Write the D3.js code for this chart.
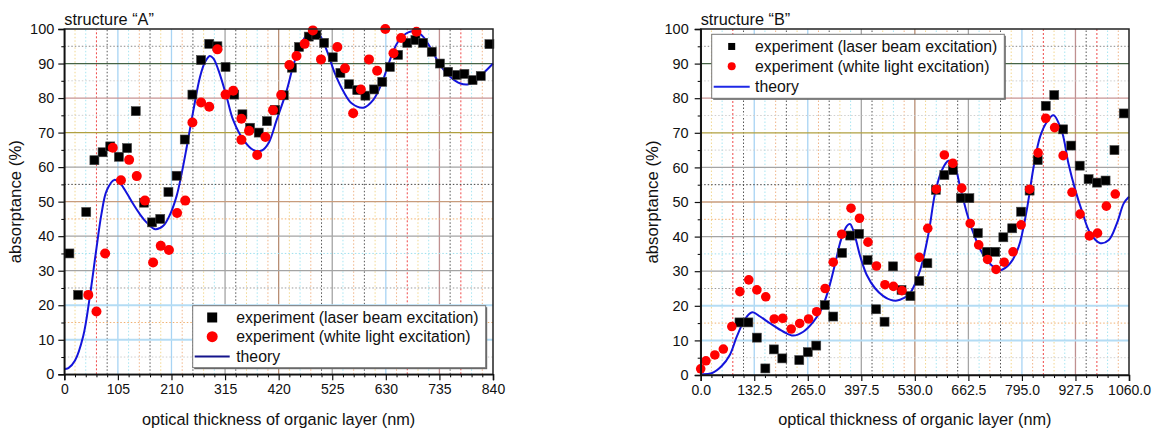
<!DOCTYPE html>
<html>
<head>
<meta charset="utf-8">
<script src="https://cdn.jsdelivr.net/npm/d3@7"></script>
<style>
  body { margin: 0; background: #fff; }
  svg { font-family: "Liberation Sans", Arial, sans-serif; }
</style>
</head>
<body>
<svg id="chart" width="1153" height="428"></svg>
<script>
// Data: [optical thickness (nm), absorptance (%)]
const laserA = [[10,35],[27,23],[43,47],[59,62],[75,64.3],[90,66],[107,63],[123,65.5],[140,76.2],[156,49.7],[172,44],[188,45],[204,52.8],[220,57.5],[236,68],[251,81],[268,91],[284,95.7],[300,95],[316,89],[333,81],[349,75.3],[364,71.4],[381,70],[397,73.3],[413,76.6],[430,80.8],[446,88.8],[460,94.8],[479,97.8],[494,98.3],[509,96],[526,91.8],[541,87.3],[558,84],[574,82.3],[590,80.7],[607,82.5],[623,84.7],[638,89],[654,92.5],[672,96],[688,96.8],[703,96],[720,93.4],[736,90],[752,87.6],[769,86.7],[784,87],[800,85.2],[816,86.4],[833,95.6]];
const whiteA = [[47,23],[63,18.2],[80,35],[95,65.6],[111,56.2],[127,62.1],[142,57.4],[158,50.3],[174,32.4],[189,37.2],[205,36],[221,46.7],[237,50.3],[251,72.9],[268,78.7],[284,77.5],[300,94.1],[316,81],[331,82.1],[347,74],[347,67.9],[362,70.5],[378,63.5],[394,68.7],[409,76.5],[425,80.9],[441,89.6],[455,92.2],[471,95.7],[487,99.6],[503,91.2],[535,94.8],[550,88.6],[566,75.6],[581,82.5],[597,91.2],[613,87.9],[629,100],[645,93],[660,97.4],[690,99.2]];
const theoryA = [[0,1.5],[8,1.8],[21,4],[37,11],[50,22.5],[63,36.5],[73,46.6],[83,53.2],[98,56.3],[110,55.2],[122,52.6],[135,49.3],[148,46.4],[161,44],[178,42],[194,43],[207,46.2],[220,51.6],[230,58.2],[240,65.9],[253,76.5],[266,86.2],[276,90.5],[285,92.2],[292,91.5],[302,88.1],[318,80.4],[331,73.6],[351,67.9],[370,65],[387,64.8],[400,66.9],[416,73.6],[436,82.3],[449,89.6],[462,94.9],[475,98.3],[488,99.4],[498,98.8],[514,93.9],[530,87.2],[547,81.9],[563,78.5],[586,77.2],[605,79.4],[622,84.3],[638,91],[654,96.3],[674,99],[690,99.2],[703,97.8],[720,93.9],[736,89.6],[756,86.2],[775,84.3],[792,84],[808,85.2],[824,87.6],[840,90]];

const laserB = [[96,15.2],[118,15.2],[139,10.8],[160,1.9],[181,7.4],[202,4.8],[244,4.3],[265,6.6],[286,8.5],[307,20.2],[328,16.9],[350,35.3],[370,40.3],[392,40.8],[413,33.2],[434,19],[455,15.4],[476,31.4],[497,24.6],[519,22.8],[541,27.2],[561,32.3],[582,53.5],[603,57.8],[624,59.2],[644,51.1],[665,51.1],[686,41],[708,35.6],[729,35.6],[749,39.8],[771,42.4],[793,47.2],[814,53.3],[834,62.1],[854,77.8],[875,80.9],[897,71],[917,66.3],[938,60.5],[960,56.6],[981,55.6],[1002,56.2],[1024,65],[1047,75.6]];
const whiteB = [[0,1.8],[13,4.1],[35,5.8],[56,7.5],[77,14],[97,24.1],[119,27.5],[139,24.6],[161,22.6],[182,16.2],[203,16.4],[224,13.3],[245,14.9],[267,16.2],[287,18.3],[308,25],[328,32.6],[349,40.7],[372,48.2],[393,45.3],[414,38.4],[435,31.5],[456,26.1],[477,25.6],[498,24.4],[541,34],[562,42.4],[583,53.7],[603,63.6],[624,61.2],[646,54],[667,43.8],[688,37.6],[710,33.4],[731,30.5],[751,32.6],[773,35.6],[793,43.4],[814,53.7],[835,64.2],[854,74.2],[876,71.5],[897,63.4],[919,52.8],[939,46.5],[962,40.2],[982,41],[1004,48.8],[1026,52.3]];
const theoryB = [[0,0.2],[27,0.5],[52,2.6],[72,5.8],[89,11],[106,15.4],[122,17.8],[130,18.1],[147,16.9],[172,14.9],[205,12.5],[229,11.4],[254,12.5],[279,15.4],[300,19.3],[316,24.6],[333,32.3],[347,39],[362,43.1],[370,43.6],[382,40],[395,34.2],[411,28.9],[432,25],[452,22.8],[470,21.7],[486,21.5],[502,22.2],[518,23.6],[543,30.3],[564,41],[580,52.5],[597,59.2],[613,61.9],[626,61.2],[642,54.4],[659,46.7],[675,41],[696,35.4],[721,31.6],[741,30.3],[766,32.3],[787,37.1],[807,47.7],[824,60.2],[840,68.9],[857,73.2],[873,75.1],[894,70.3],[910,61.2],[927,53.5],[944,47.2],[964,41],[989,38.1],[1010,39],[1030,43.8],[1047,49.6],[1060,51.5]];

const xTicksA = [0, 105, 210, 315, 420, 525, 630, 735, 840];
const xTicksB = [0, 132.5, 265, 397.5, 530, 662.5, 795, 927.5, 1060];
const yTicks = [0, 10, 20, 30, 40, 50, 60, 70, 80, 90, 100];
const legendLabels = ["experiment (laser beam excitation)", "experiment (white light excitation)", "theory"];
const titles = ["structure \u201CA\u201D", "structure \u201CB\u201D"];

// colourful grid, as in the original (index into major steps)
const vMajorColors = ["#000", "#a8d4f4", "#a8d4f4", "#a4a4a4", "#b88e74", "#a4a4a4", "#a8d4f4", "#c09090", "#000"];
const vMinorColors = ["#555", "#f2d890", "#a8e6f2", "#f0b488"];
const vRedDotted = [0.6, 6.4, 7.4];
const hMajorColors = {10: "#b4dcf4", 20: "#b4dcf4", 30: "#a4a4a4", 40: "#a4a4a4", 50: "#c89c7c", 60: "#a4a4a4", 70: "#b0a040", 80: "#c89494", 90: "#466446"};
const hMinorColors = {5: "#cfcfcf", 15: "#f0b070", 25: "#999", 35: "#9ee0ee", 45: "#f0b070", 55: "#444", 65: "#cfcfcf", 75: "#cfcfcf", 85: "#cfcfcf", 95: "#888"};

const svg = d3.select("#chart");

function drawPanel(opt) {
  const x = d3.scaleLinear().domain([0, opt.xMax]).range([opt.left, opt.left + opt.width]);
  const y = d3.scaleLinear().domain([0, 100]).range([opt.top + opt.height, opt.top]);
  const step = opt.xTicks[1];
  const g = svg.append("g");

  // grid
  const grid = g.append("g");
  for (let k = 1; k < 40; k++) {
    const v = k * step / 5;
    const u = Math.round(k / 5 * 10) / 10;
    let color, dash, w;
    if (k % 5 === 0) { color = vMajorColors[k / 5]; dash = null; w = 1.3; }
    else if (vRedDotted.includes(u)) { color = "#f04848"; dash = "2,2"; w = 1; }
    else { color = vMinorColors[k % 4]; dash = "1.5,2"; w = 1; }
    grid.append("line")
      .attr("x1", x(v)).attr("x2", x(v))
      .attr("y1", y(0)).attr("y2", y(100))
      .attr("stroke", color).attr("stroke-width", w)
      .attr("stroke-dasharray", dash);
  }
  for (let v = 5; v < 100; v += 5) {
    const major = v % 10 === 0;
    grid.append("line")
      .attr("x1", x(0)).attr("x2", x(opt.xMax))
      .attr("y1", y(v)).attr("y2", y(v))
      .attr("stroke", major ? hMajorColors[v] : hMinorColors[v])
      .attr("stroke-width", major ? (v <= 20 ? 2 : 1.3) : 1)
      .attr("stroke-dasharray", major ? null : "1.5,2");
  }

  // theory line
  const line = d3.line().x(d => x(d[0])).y(d => y(d[1])).curve(d3.curveCatmullRom.alpha(0.5));
  g.append("path").datum(opt.theory)
    .attr("fill", "none").attr("stroke", "#1414dc").attr("stroke-width", 2)
    .attr("d", line);

  // markers
  const s = opt.sq;
  g.append("g").selectAll("rect").data(opt.laser).join("rect")
    .attr("x", d => x(d[0]) - s / 2).attr("y", d => y(d[1]) - s / 2)
    .attr("width", s).attr("height", s)
    .attr("fill", "#000").attr("stroke", "#444").attr("stroke-width", 0.6);
  g.append("g").selectAll("circle").data(opt.white).join("circle")
    .attr("cx", d => x(d[0])).attr("cy", d => y(d[1])).attr("r", opt.r)
    .attr("fill", "#ff0000");

  // frame
  g.append("rect")
    .attr("x", x(0)).attr("y", y(100))
    .attr("width", opt.width).attr("height", opt.height)
    .attr("fill", "none").attr("stroke", "#222").attr("stroke-width", 1.5);

  // axes
  const minorX = d3.range(0, 41).map(i => i * step / 5).filter((d, i) => i % 5 !== 0);
  const minorY = d3.range(5, 100, 10);
  g.append("g").attr("transform", `translate(0,${y(0)})`)
    .call(d3.axisBottom(x).tickValues(minorX).tickSize(3).tickFormat(""))
    .call(a => a.select(".domain").remove());
  g.append("g").attr("transform", `translate(${x(0)},0)`)
    .call(d3.axisLeft(y).tickValues(minorY).tickSize(3).tickFormat(""))
    .call(a => a.select(".domain").remove());
  const xa = g.append("g").attr("transform", `translate(0,${y(0)})`)
    .call(d3.axisBottom(x).tickValues(opt.xTicks).tickSize(6).tickPadding(4).tickFormat(opt.xFormat));
  const ya = g.append("g").attr("transform", `translate(${x(0)},0)`)
    .call(d3.axisLeft(y).tickValues(yTicks).tickSize(6).tickPadding(opt.yPad).tickFormat(d3.format("d")));
  [xa, ya].forEach(a => {
    a.selectAll("text").attr("fill", "#111").style("font-size", "14.5px");
    a.selectAll("line").attr("stroke", "#111").attr("stroke-width", 1.2);
    a.select(".domain").attr("stroke", "#111").attr("stroke-width", 1.5);
  });
  xa.selectAll("text").style("font-size", "14px");

  // titles
  g.append("text").attr("x", x(0)).attr("y", opt.top - 4)
    .style("font-size", "16.3px").attr("fill", "#111").text(opt.title);
  g.append("text")
    .attr("transform", `translate(${opt.left - 43},${opt.top + opt.height / 2}) rotate(-90)`)
    .attr("text-anchor", "middle").style("font-size", "16.8px").attr("fill", "#111")
    .text("absorptance (%)");
  g.append("text")
    .attr("x", opt.left + opt.width / 2).attr("y", 425)
    .attr("text-anchor", "middle").style("font-size", "16.3px").attr("fill", "#111")
    .text("optical thickness of organic layer (nm)");

  // legend
  const L = opt.legend;
  const lg = g.append("g").attr("transform", `translate(${L.x},${L.y})`);
  lg.append("rect").attr("x", 1.5).attr("y", 1.5).attr("width", L.w).attr("height", L.h).attr("fill", "#666");
  lg.append("rect").attr("width", L.w).attr("height", L.h).attr("fill", "#fff").attr("stroke", "#777").attr("stroke-width", 1);
  const rowY = [L.h * 0.19, L.h * 0.5, L.h * 0.82];
  lg.append("rect").attr("x", L.sym - L.ls / 2).attr("y", rowY[0] - L.ls / 2)
    .attr("width", L.ls).attr("height", L.ls).attr("fill", "#000");
  lg.append("circle").attr("cx", L.sym).attr("cy", rowY[1]).attr("r", L.ls / 2 + 0.5).attr("fill", "#ff0000");
  lg.append("line").attr("x1", 2).attr("x2", L.sym * 2 - 2).attr("y1", rowY[2]).attr("y2", rowY[2])
    .attr("stroke", L.lineColor).attr("stroke-width", 2);
  legendLabels.forEach((t, i) => {
    lg.append("text").attr("x", L.tx).attr("y", rowY[i]).attr("dy", "0.36em")
      .style("font-size", "15.8px").attr("fill", "#111").text(t);
  });
}

drawPanel({
  left: 64.3, top: 29, width: 428.7, height: 345.3, xMax: 840,
  xTicks: xTicksA, xFormat: d3.format("d"), yPad: 4,
  laser: laserA, white: whiteA, theory: theoryA, sq: 9, r: 5,
  title: titles[0],
  legend: {x: 192.7, y: 305.7, w: 293, h: 62, sym: 19.5, ls: 10, tx: 43.5, lineColor: "#14148c"}
});
drawPanel({
  left: 700.7, top: 29, width: 428.3, height: 346, xMax: 1060,
  xTicks: xTicksB, xFormat: d3.format(".1f"), yPad: 6,
  laser: laserB, white: whiteB, theory: theoryB, sq: 9, r: 4.8,
  title: titles[1],
  legend: {x: 711.7, y: 34.3, w: 292.6, h: 64, sym: 20, ls: 7, tx: 43.3, lineColor: "#1e28e6"}
});
</script>
</body>
</html>
